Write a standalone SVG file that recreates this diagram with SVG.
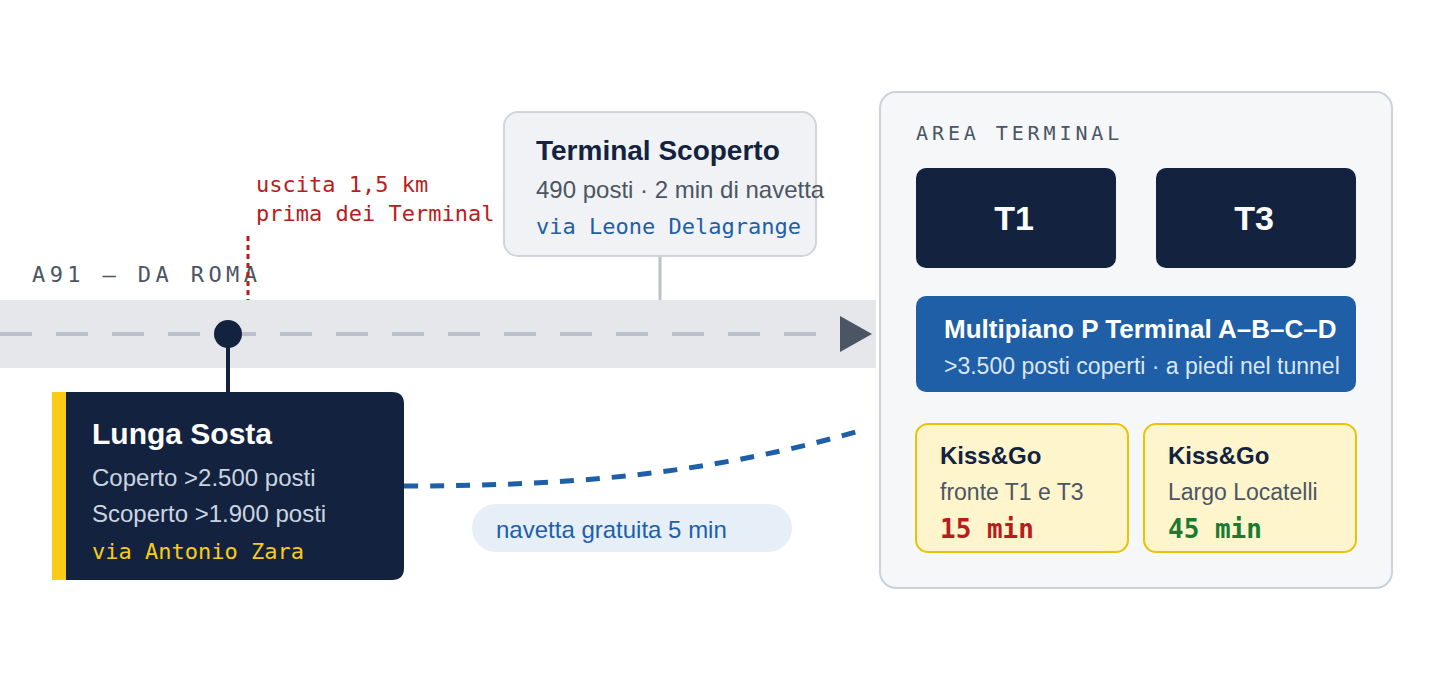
<svg xmlns="http://www.w3.org/2000/svg" width="1440" height="680" viewBox="0 0 1440 680">
<style>
.sans{font-family:"Liberation Sans",Arial,sans-serif}
.mono{font-family:"DejaVu Sans Mono","Liberation Mono",monospace}
.b{font-weight:bold}
</style>
<rect width="1440" height="680" fill="#ffffff"/>
<g id="road">
<rect x="0" y="300" width="876" height="68" fill="#e5e7eb"/>
<line x1="0" y1="334" x2="818" y2="334" stroke="#bcc1ca" stroke-width="4" stroke-dasharray="32 24"/>
<polygon points="840,316 872,334 840,352" fill="#4b5563"/>
<text x="32" y="282" class="mono" font-size="22" letter-spacing="4.4" fill="#4b5563">A91 — DA ROMA</text>
</g>
<g id="connectors">
<line x1="248" y1="236" x2="248" y2="300" stroke="#b91c1c" stroke-width="3" stroke-dasharray="5 4"/>
<line x1="660" y1="256" x2="660" y2="300" stroke="#bcc1ca" stroke-width="3"/>
<line x1="228" y1="340" x2="228" y2="392" stroke="#13233f" stroke-width="4"/>
<path d="M404 486 C 560 486, 700 476, 856 432" fill="none" stroke="#1e5fa8" stroke-width="5" stroke-dasharray="14 12"/>
</g>
<g id="exit">
<circle cx="228" cy="334" r="14" fill="#13233f"/>
<text x="256" y="192" class="mono" font-size="22" fill="#b91c1c">uscita 1,5 km</text>
<text x="256" y="221" class="mono" font-size="22" fill="#b91c1c">prima dei Terminal</text>
</g>
<g id="terminal-scoperto">
<rect x="504" y="112" width="312" height="144" rx="14" fill="#f0f2f5" stroke="#d1d5db" stroke-width="2"/>
<text x="536" y="160" class="sans b" font-size="28" fill="#13233f">Terminal Scoperto</text>
<text x="536" y="198" class="sans" font-size="24" fill="#4b5563">490 posti · 2 min di navetta</text>
<text x="536" y="234" class="mono" font-size="22" fill="#1e5fa8">via Leone Delagrange</text>
</g>
<g id="lunga-sosta">
<path d="M52 392 H392 Q404 392 404 404 V568 Q404 580 392 580 H52 Z" fill="#13233f"/>
<rect x="52" y="392" width="14" height="188" fill="#facc15"/>
<text x="92" y="444" class="sans b" font-size="30" fill="#ffffff">Lunga Sosta</text>
<text x="92" y="486" class="sans" font-size="24" fill="#cbd5e1">Coperto &gt;2.500 posti</text>
<text x="92" y="522" class="sans" font-size="24" fill="#cbd5e1">Scoperto &gt;1.900 posti</text>
<text x="92" y="559" class="mono" font-size="22" fill="#facc15">via Antonio Zara</text>
</g>
<g id="navetta">
<rect x="472" y="504" width="320" height="48" rx="24" fill="#e6eef8"/>
<text x="496" y="538" class="sans" font-size="24" fill="#1e5fa8">navetta gratuita 5 min</text>
</g>
<g id="area-terminal">
<rect x="880" y="92" width="512" height="496" rx="16" fill="#f5f7f9" stroke="#cbd2da" stroke-width="2"/>
<text x="916" y="140" class="mono" font-size="20" letter-spacing="3.9" fill="#4b5563">AREA TERMINAL</text>
</g>
<g id="t1">
<rect x="916" y="168" width="200" height="100" rx="10" fill="#13233f"/>
<text x="1014" y="230" class="sans b" font-size="34" fill="#ffffff" text-anchor="middle">T1</text>
</g>
<g id="t3">
<rect x="1156" y="168" width="200" height="100" rx="10" fill="#13233f"/>
<text x="1254" y="230" class="sans b" font-size="34" fill="#ffffff" text-anchor="middle">T3</text>
</g>
<g id="multipiano">
<rect x="916" y="296" width="440" height="96" rx="10" fill="#1e5fa8"/>
<text x="944" y="338" class="sans b" font-size="26" fill="#ffffff">Multipiano P Terminal A–B–C–D</text>
<text x="944" y="374" class="sans" font-size="23" fill="#dbe6f3">&gt;3.500 posti coperti · a piedi nel tunnel</text>
</g>
<g id="kiss-go-1">
<rect x="916" y="424" width="212" height="128" rx="12" fill="#fef5cc" stroke="#eac308" stroke-width="2"/>
<text x="940" y="464" class="sans b" font-size="24" fill="#13233f">Kiss&amp;Go</text>
<text x="940" y="500" class="sans" font-size="23" fill="#4b5563">fronte T1 e T3</text>
<text x="940" y="538" class="mono b" font-size="26" fill="#b91c1c">15 min</text>
</g>
<g id="kiss-go-2">
<rect x="1144" y="424" width="212" height="128" rx="12" fill="#fef5cc" stroke="#eac308" stroke-width="2"/>
<text x="1168" y="464" class="sans b" font-size="24" fill="#13233f">Kiss&amp;Go</text>
<text x="1168" y="500" class="sans" font-size="23" fill="#4b5563">Largo Locatelli</text>
<text x="1168" y="538" class="mono b" font-size="26" fill="#1a7a32">45 min</text>
</g>
</svg>
